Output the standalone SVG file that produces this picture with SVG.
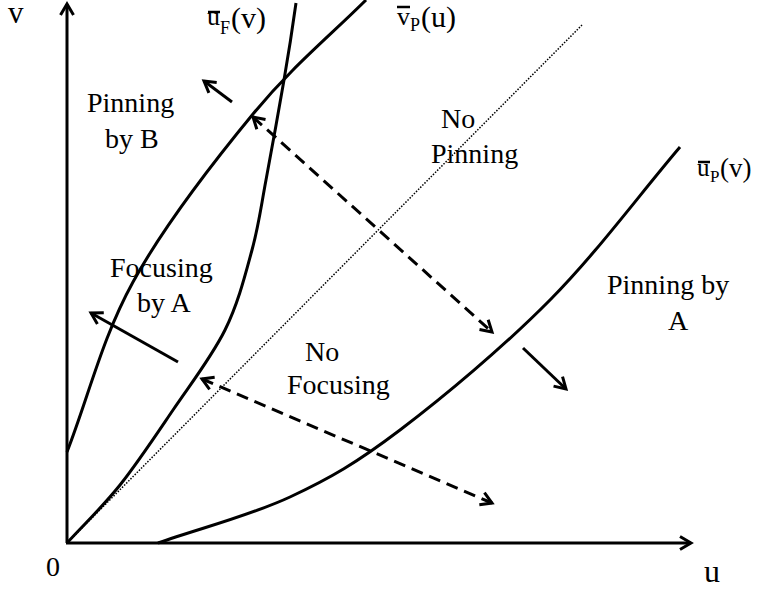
<svg xmlns="http://www.w3.org/2000/svg" width="758" height="590" viewBox="0 0 758 590">
<style>
.ln{fill:none;stroke:#000;stroke-width:3;stroke-linecap:butt}
.dash{fill:none;stroke:#000;stroke-width:3;stroke-dasharray:12 7}
.dot{fill:none;stroke:#000;stroke-width:1.5;stroke-dasharray:1.5 1.5}
text{font-family:'Liberation Serif','Times New Roman','DejaVu Serif',serif;fill:#000}
.bar{stroke:#000;stroke-width:2.5}
</style>
<defs>
<marker id="ah" markerUnits="userSpaceOnUse" viewBox="-14 -9 17 18" refX="0" refY="0" markerWidth="17" markerHeight="18" orient="auto-start-reverse">
<path d="M-11,-6.5 L0,0 L-11,6.5" fill="none" stroke="#000" stroke-width="3" stroke-dasharray="none"/>
</marker>
</defs>
<rect width="758" height="590" fill="#fff"/>
<g id="axes">
<line class="ln" x1="67" y1="543" x2="67" y2="4" marker-end="url(#ah)"/>
<line class="ln" x1="66" y1="543" x2="691" y2="543" marker-end="url(#ah)"/>
<text x="8" y="23" font-size="31">v</text>
<text x="704" y="582" font-size="32">u</text>
<text x="46" y="576" font-size="28">0</text>
</g>
<g id="diagonal">
<line class="dot" x1="67" y1="543" x2="582" y2="25"/>
</g>
<g id="curve-vP">
<path class="ln" d="M67,452 C89,395.3 102,338.3 133,282 C164,225.7 214.3,161 253,114 C291.7,67 327.7,38 366,0"/>
<line class="bar" x1="397" y1="7" x2="410" y2="7"/>
<text x="397" y="25" font-size="26">v</text>
<text x="410" y="31" font-size="18">P</text>
<text x="421" y="27" font-size="30">(u)</text>
</g>
<g id="curve-uF">
<path class="ln" d="M67,543 C84.7,523.7 102.3,507.2 120,485 C137.7,462.8 155.5,435.8 173,410 C190.5,384.2 211.8,356.7 225,330 C238.2,303.3 245.2,275 252,250 C258.8,225 260.7,208.3 266,180 C271.3,151.7 278.8,110 284,80 C289.2,50 292.7,26.7 296,3"/>
<line class="bar" x1="208" y1="12" x2="220" y2="12"/>
<text x="207" y="25" font-size="26">u</text>
<text x="220" y="34" font-size="18">F</text>
<text x="231" y="28" font-size="30">(v)</text>
</g>
<g id="curve-uP">
<path class="ln" d="M158,543 C202,527.7 249.7,515.8 290,497 C330.3,478.2 356.7,462.8 400,430 C443.3,397.2 503.3,347.2 550,300 C596.7,252.8 636.7,198 680,147"/>
<line class="bar" x1="698" y1="162" x2="710" y2="162"/>
<text x="697" y="176" font-size="25">u</text>
<text x="710" y="182" font-size="17">P</text>
<text x="720" y="177" font-size="27">(v)</text>
</g>
<g id="connectors">
<line class="dash" x1="253" y1="117" x2="492" y2="332" marker-start="url(#ah)" marker-end="url(#ah)"/>
<line class="dash" x1="202" y1="379" x2="492" y2="503" marker-start="url(#ah)" marker-end="url(#ah)"/>
<line class="ln" x1="232" y1="102" x2="204" y2="81" marker-end="url(#ah)"/>
<line class="ln" x1="178" y1="362" x2="91" y2="313" marker-end="url(#ah)"/>
<line class="ln" x1="523" y1="348" x2="566" y2="389" marker-end="url(#ah)"/>
</g>
<g id="region-pinning-B" font-size="28">
<text x="87" y="112">Pinning</text>
<text x="105" y="148">by B</text>
</g>
<g id="region-no-pinning" font-size="28">
<text x="441" y="128">No</text>
<text x="431" y="163">Pinning</text>
</g>
<g id="region-focusing-A" font-size="28">
<text x="110" y="277">Focusing</text>
<text x="137" y="312">by A</text>
</g>
<g id="region-no-focusing" font-size="28">
<text x="305" y="361">No</text>
<text x="287" y="394">Focusing</text>
</g>
<g id="region-pinning-A" font-size="28">
<text x="607" y="294">Pinning by</text>
<text x="668" y="330">A</text>
</g>
</svg>
